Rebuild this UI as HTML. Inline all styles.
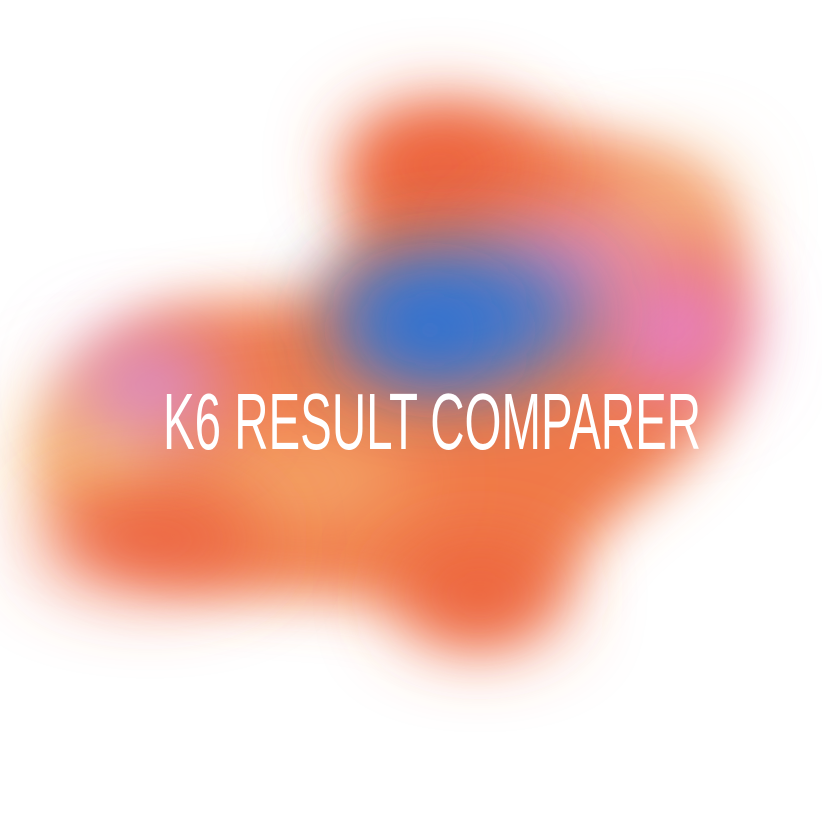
<!DOCTYPE html>
<html>
<head>
<meta charset="utf-8">
<style>
  html,body{margin:0;padding:0;background:#fff;}
  svg{display:block;}
</style>
</head>
<body>
<svg width="822" height="822" viewBox="0 0 822 822">
  <defs>
    <filter id="blurBig" filterUnits="userSpaceOnUse" x="-200" y="-200" width="1222" height="1222">
      <feGaussianBlur stdDeviation="28"/>
    </filter>
    <filter id="blurMid" filterUnits="userSpaceOnUse" x="-200" y="-200" width="1222" height="1222">
      <feGaussianBlur stdDeviation="40"/>
    </filter>
  </defs>
  <rect width="822" height="822" fill="#ffffff"/>
  <g>
    <path filter="url(#blurBig)" fill="#f07a4a"
      d="M380,130 C470,95 620,130 700,190 C760,240 750,330 720,410 C690,480 610,500 580,560 C540,640 470,650 420,620 C370,590 310,600 240,590 C150,580 70,560 55,480 C45,410 90,330 170,310 C250,290 330,320 350,250 C360,200 340,150 380,130 Z"/>
    <ellipse filter="url(#blurMid)" cx="100" cy="450" rx="70" ry="70" fill="#f6c07a"/>
    <ellipse filter="url(#blurMid)" cx="660" cy="210" rx="70" ry="50" fill="#f5b27a"/>
    <ellipse filter="url(#blurMid)" cx="300" cy="480" rx="120" ry="45" fill="#f4a86a"/>
    <ellipse filter="url(#blurMid)" cx="440" cy="165" rx="90" ry="55" fill="#ec5f3a"/>
    <ellipse filter="url(#blurMid)" cx="150" cy="540" rx="110" ry="45" fill="#ec6040"/>
    <ellipse filter="url(#blurMid)" cx="480" cy="595" rx="80" ry="45" fill="#ec5f3a"/>
    <ellipse filter="url(#blurMid)" cx="675" cy="330" rx="70" ry="65" fill="#e57fc8"/>
    <ellipse filter="url(#blurMid)" cx="150" cy="385" rx="75" ry="45" fill="#d88ad8"/>
    <ellipse filter="url(#blurMid)" cx="570" cy="265" rx="85" ry="45" fill="#e48ac0"/>
    <ellipse filter="url(#blurMid)" cx="460" cy="315" rx="130" ry="65" fill="#3a78d0"/>
    <ellipse filter="url(#blurMid)" cx="430" cy="330" rx="70" ry="40" fill="#2a70d4"/>
  </g>
  <text x="163" y="449" textLength="538" lengthAdjust="spacingAndGlyphs"
        font-family="'Liberation Sans Narrow','Liberation Sans',sans-serif" font-size="80" fill="#ffffff"
       >K6 RESULT COMPARER</text>
</svg>
</body>
</html>
